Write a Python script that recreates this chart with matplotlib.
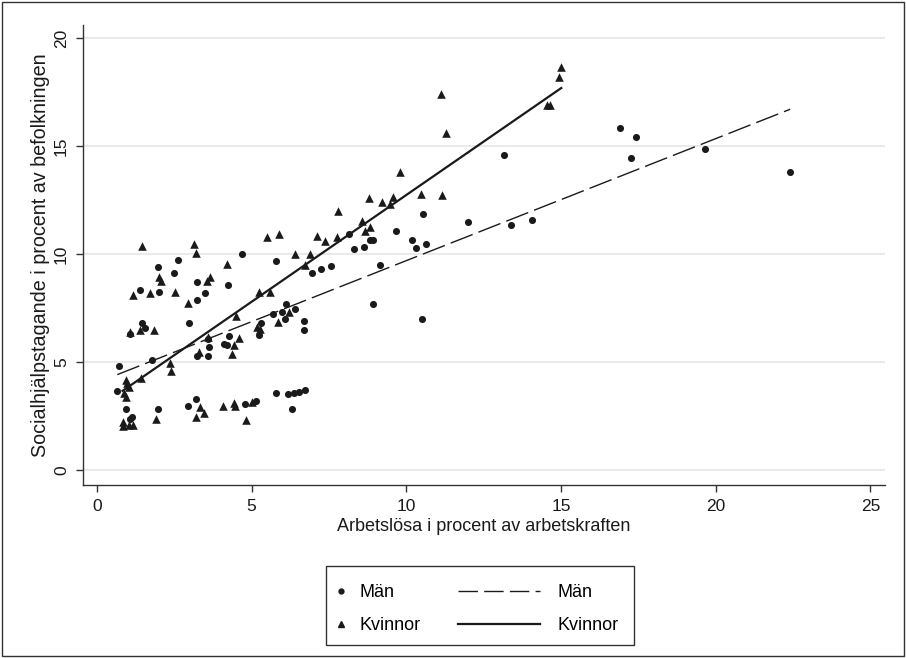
import numpy as np
import matplotlib.pyplot as plt
from matplotlib.lines import Line2D
from matplotlib.patches import Rectangle

plt.rcParams['font.family'] = ['Liberation Sans', 'DejaVu Sans']

# Män: arbetslösa (x) och socialhjälpstagande (y), i procent
man_x = [0.72, 0.66, 0.93, 1.98, 1.14, 1.07, 2.94, 3.20, 4.80, 5.13,
         5.79, 6.17, 6.38, 6.53, 6.74, 6.32, 1.77, 1.06, 1.46, 1.54,
         2.99, 3.60, 3.63, 3.60, 3.22, 4.27, 4.12, 4.19, 5.30, 5.25,
         5.69, 5.98, 6.11, 6.09, 6.39, 6.71, 6.71, 8.93, 10.52, 1.40,
         2.01, 3.22, 3.22, 3.49, 4.24, 1.96, 2.48, 2.61, 4.70, 5.78,
         6.96, 7.23, 7.58, 9.14, 8.14, 8.32, 8.62, 8.83, 8.94, 9.67,
         10.20, 10.33, 10.54, 10.65, 12.01, 13.17, 13.39, 14.06, 16.92, 17.44,
         17.26, 19.66, 22.41]
man_y = [4.81, 3.65, 2.83, 2.83, 2.47, 2.35, 2.94, 3.29, 3.05, 3.19,
         3.56, 3.51, 3.56, 3.63, 3.71, 2.83, 5.09, 6.31, 6.82, 6.56,
         6.79, 6.08, 5.68, 5.26, 5.29, 6.22, 5.83, 5.79, 6.82, 6.26,
         7.21, 7.30, 7.69, 7.01, 7.47, 6.88, 6.47, 7.69, 6.99, 8.35,
         8.26, 8.72, 7.86, 8.20, 8.54, 9.41, 9.13, 9.74, 10.00, 9.68,
         9.11, 9.31, 9.43, 9.50, 10.94, 10.24, 10.33, 10.64, 10.66, 11.06,
         10.64, 10.26, 11.83, 10.44, 11.48, 14.60, 11.32, 11.59, 15.82, 15.41,
         14.43, 14.86, 13.80]

# Kvinnor
kv_x = [11.13, 11.29, 9.79, 8.79, 9.21, 9.47, 9.57, 10.48, 11.17, 7.78,
        8.57, 8.65, 8.84, 7.77, 7.36, 7.12, 6.88, 6.39, 6.73, 5.90,
        5.50, 4.21, 1.47, 3.15, 3.20, 2.02, 2.07, 3.55, 3.65, 15.01,
        14.93, 14.54, 14.65, 1.17, 1.71, 2.53, 2.96, 4.48, 5.24, 5.60,
        1.06, 1.38, 1.84, 3.59, 4.60, 4.43, 4.37, 3.30, 5.16, 5.27,
        5.84, 6.22, 2.36, 2.39, 1.41, 0.94, 0.96, 1.04, 0.87, 0.94,
        0.83, 0.85, 1.04, 1.17, 1.91, 3.20, 3.33, 3.47, 4.09, 4.43,
        4.47, 4.82, 5.02]
kv_y = [17.39, 15.58, 13.81, 12.58, 12.39, 12.30, 12.65, 12.78, 12.73, 11.99,
        11.52, 11.06, 11.24, 10.77, 10.61, 10.83, 9.99, 9.98, 9.51, 10.92,
        10.80, 9.53, 10.38, 10.44, 10.05, 8.94, 8.74, 8.74, 8.94, 18.67,
        18.20, 16.90, 16.90, 8.12, 8.17, 8.23, 7.72, 7.15, 8.25, 8.23,
        6.37, 6.50, 6.46, 6.16, 6.11, 5.77, 5.37, 5.44, 6.60, 6.54,
        6.87, 7.30, 4.95, 4.56, 4.26, 4.14, 4.04, 3.84, 3.56, 3.37,
        2.24, 2.04, 2.06, 2.06, 2.37, 2.47, 2.92, 2.63, 2.97, 3.12,
        2.98, 2.32, 3.14]

# regressionslinjer: intercept, lutning
man_fit = [4.04, 0.565]
kv_fit = [2.84, 0.989]

fig = plt.figure(figsize=(9.06, 6.58), dpi=100)
ax = fig.add_axes([0.0916, 0.2629, 0.8854, 0.699])

ax.scatter(man_x, man_y, s=26, marker='o', color='#1a1a1a', linewidths=0, zorder=3)
ax.scatter(kv_x, kv_y, s=38, marker='^', color='#1a1a1a', linewidths=0, zorder=3)

xm = np.array([min(man_x), max(man_x)])
ax.plot(xm, man_fit[0] + man_fit[1] * xm, color='#1a1a1a', lw=1.0,
        dashes=(17, 4.5), zorder=4)
xk = np.array([min(kv_x), max(kv_x)])
ax.plot(xk, kv_fit[0] + kv_fit[1] * xk, color='#1a1a1a', lw=1.6, zorder=4)

ax.set_xlim(-0.45, 25.48)
ax.set_ylim(-0.7, 20.6)
ax.set_xticks([0, 5, 10, 15, 20, 25])
ax.set_yticks([0, 5, 10, 15, 20])
ax.grid(axis='y', color='#eaeaea', lw=1.5)
ax.set_axisbelow(True)

for s in ['top', 'right']:
    ax.spines[s].set_visible(False)
for s in ['left', 'bottom']:
    ax.spines[s].set_color('#333333')
    ax.spines[s].set_linewidth(1.0)

ax.tick_params(direction='out', length=5, width=1, color='#333333',
               labelsize=12.5, labelcolor='#1a1a1a', pad=5)
for lab in ax.get_yticklabels():
    lab.set_rotation(90)
    lab.set_va('center')

ax.set_xlabel('Arbetslösa i procent av arbetskraften', fontsize=13, color='#1a1a1a', labelpad=3)
ax.set_ylabel('Socialhjälpstagande i procent av befolkningen', fontsize=14.2, color='#1a1a1a', labelpad=3)

# legend i en ram under diagrammet
h1 = [Line2D([], [], ls='none', marker='o', ms=3.5, color='#1a1a1a'),
      Line2D([], [], ls='none', marker='^', ms=4.5, color='#1a1a1a')]
h2 = [Line2D([], [], color='#1a1a1a', lw=1.0, dashes=(14, 4.5)),
      Line2D([], [], color='#1a1a1a', lw=1.6)]
fig.legend(h1, ['Män', 'Kvinnor'], loc='center left', bbox_to_anchor=(0.351, 0.074),
           frameon=False, handlelength=0.8, handletextpad=0.6, labelspacing=0.9,
           fontsize=13)
fig.legend(h2, ['Män', 'Kvinnor'], loc='center left', bbox_to_anchor=(0.488, 0.074),
           frameon=False, handlelength=4.5, handletextpad=1.0, labelspacing=0.9,
           fontsize=13)
fig.add_artist(Rectangle((0.36, 0.0198), 0.34, 0.12, transform=fig.transFigure,
                         fill=False, edgecolor='#333333', lw=1.0))

# yttre ram
fig.add_artist(Rectangle((0.0022, 0.003), 0.9956, 0.994, transform=fig.transFigure,
                         fill=False, edgecolor='#333333', lw=1.0))

fig.savefig('out.png', dpi=100)
